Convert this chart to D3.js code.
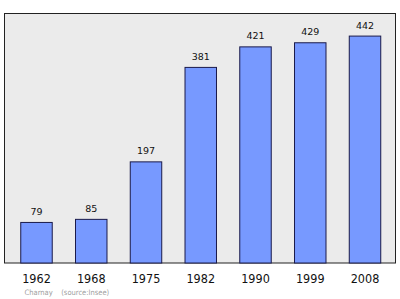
<!DOCTYPE html>
<html><head><meta charset="utf-8">
<script src="https://cdn.jsdelivr.net/npm/d3@7"></script>
<style>body{margin:0;background:#fff}svg{display:block}</style>
</head><body>
<script>
const years = ["1962","1968","1975","1982","1990","1999","2008"];
const population = [79, 85, 197, 381, 421, 429, 442];
const sourceLabel = "Charnay    (source:Insee)";

const W = 400, H = 299;
const panel = {x0: 4.5, y0: 13.5, x1: 395.5, y1: 263};
const svg = d3.select("body").append("svg").attr("width", W).attr("height", H);

svg.append("rect").attr("x", panel.x0).attr("y", panel.y0)
  .attr("width", panel.x1 - panel.x0).attr("height", panel.y1 - panel.y0)
  .attr("fill", "#ebebeb").attr("stroke", "#222").attr("stroke-width", 1);

const x = d3.scaleBand().domain(years).range([9.8, 391.7]).paddingInner(0.425).paddingOuter(0.2);
const y = d3.scaleLinear().domain([0, 486]).range([panel.y1, panel.y0]);

const data = years.map((yr, i) => ({yr, v: population[i]}));

svg.selectAll("rect.bar").data(data).join("rect").attr("class","bar")
  .attr("x", d => x(d.yr)).attr("y", d => y(d.v))
  .attr("width", x.bandwidth()).attr("height", d => y(0) - y(d.v))
  .attr("fill", "#7799ff").attr("stroke", "#1a1a4a").attr("stroke-width", 1);

svg.selectAll("text.val").data(data).join("text").attr("class","val")
  .attr("x", d => x(d.yr) + x.bandwidth()/2).attr("y", d => y(d.v) - 7.5)
  .attr("text-anchor","middle").attr("font-family","DejaVu Sans").attr("font-size", 9.5)
  .attr("fill","#111").text(d => d.v);

const ax = svg.append("g").attr("transform", `translate(0,${panel.y1})`)
  .call(d3.axisBottom(x).tickSize(0).tickPadding(11));
ax.select(".domain").remove();
ax.selectAll("text").attr("font-family","DejaVu Sans Condensed").attr("font-stretch","condensed")
  .attr("font-size", 12.5).attr("fill","#111");

svg.append("text").attr("x", 24.5).attr("y", 294.5)
  .attr("font-family","DejaVu Sans Condensed").attr("font-stretch","condensed")
  .attr("font-size", 7.5).attr("fill","#a0a0a0").attr("xml:space","preserve")
  .style("white-space","pre").text(sourceLabel);
</script>
</body></html>
